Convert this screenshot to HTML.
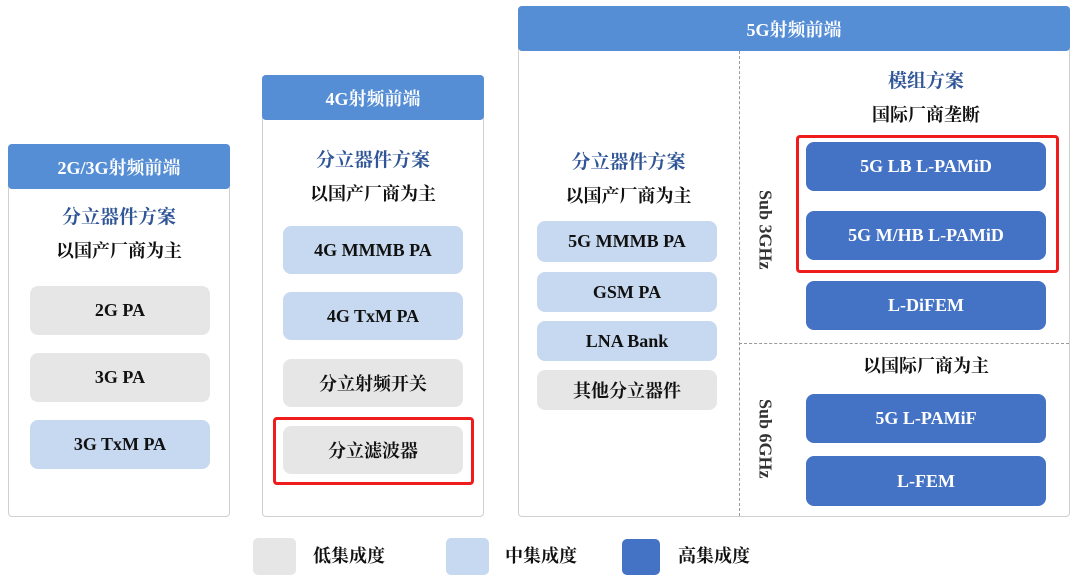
<!DOCTYPE html>
<html><head><meta charset="utf-8"><style>
body{margin:0;width:1080px;height:582px;background:#fff;position:relative;overflow:hidden;font-family:"Liberation Serif","Noto Serif CJK SC",serif;font-weight:bold;}
.a{position:absolute;box-sizing:border-box;display:flex;align-items:center;justify-content:center;white-space:nowrap;}
.panel{position:absolute;border:1.5px solid #d0d0d0;border-radius:4px;background:#fff;box-sizing:border-box;}
.hd{background:#558ed5;color:#fff;font-size:18px;border-radius:4px;}
.g{background:#e6e6e6;border-radius:8px;font-size:18px;color:#111;}
.l{background:#c6d9f0;border-radius:8px;font-size:18px;color:#111;}
.d{background:#4472c4;border-radius:8px;font-size:18px;color:#fff;}
.t{font-size:19px;color:#2f5597;}
.s{font-size:18px;color:#111;}
.red{position:absolute;border:3px solid #ee1c1c;border-radius:4px;box-sizing:border-box;}
.v{writing-mode:vertical-rl;font-size:18px;color:#333;}
</style></head><body>
<!-- 2G/3G -->
<div class="panel" style="left:8px;top:144px;width:222px;height:373px"></div>
<div class="a hd" style="left:8px;top:144px;width:222px;height:45px">2G/3G射频前端</div>
<div class="a t" style="left:8px;top:202px;width:222px;height:26px">分立器件方案</div>
<div class="a s" style="left:8px;top:237px;width:222px;height:26px">以国产厂商为主</div>
<div class="a g" style="left:30px;top:286px;width:180px;height:49px">2G PA</div>
<div class="a g" style="left:30px;top:353px;width:180px;height:49px">3G PA</div>
<div class="a l" style="left:30px;top:420px;width:180px;height:49px">3G TxM PA</div>
<!-- 4G -->
<div class="panel" style="left:262px;top:75px;width:222px;height:442px"></div>
<div class="a hd" style="left:262px;top:75px;width:222px;height:45px">4G射频前端</div>
<div class="a t" style="left:262px;top:145px;width:222px;height:26px">分立器件方案</div>
<div class="a s" style="left:262px;top:180px;width:222px;height:26px">以国产厂商为主</div>
<div class="a l" style="left:283px;top:226px;width:180px;height:48px">4G MMMB PA</div>
<div class="a l" style="left:283px;top:292px;width:180px;height:48px">4G TxM PA</div>
<div class="a g" style="left:283px;top:359px;width:180px;height:48px">分立射频开关</div>
<div class="a g" style="left:283px;top:426px;width:180px;height:48px">分立滤波器</div>
<div class="red" style="left:273px;top:417px;width:201px;height:68px"></div>
<!-- 5G -->
<div class="panel" style="left:518px;top:6px;width:552px;height:511px"></div>
<div class="a hd" style="left:518px;top:6px;width:552px;height:45px">5G射频前端</div>
<div style="position:absolute;left:739px;top:51px;height:465px;border-left:1.5px dashed #999"></div>
<div style="position:absolute;left:739px;top:343px;width:330px;border-top:1.5px dashed #999"></div>
<div class="a t" style="left:518px;top:147px;width:221px;height:26px">分立器件方案</div>
<div class="a s" style="left:518px;top:182px;width:221px;height:26px">以国产厂商为主</div>
<div class="a l" style="left:537px;top:221px;width:180px;height:41px">5G MMMB PA</div>
<div class="a l" style="left:537px;top:272px;width:180px;height:40px">GSM PA</div>
<div class="a l" style="left:537px;top:321px;width:180px;height:40px">LNA Bank</div>
<div class="a g" style="left:537px;top:370px;width:180px;height:40px">其他分立器件</div>
<div class="a t" style="left:806px;top:66px;width:240px;height:26px">模组方案</div>
<div class="a s" style="left:806px;top:101px;width:240px;height:26px">国际厂商垄断</div>
<div class="a d" style="left:806px;top:142px;width:240px;height:49px">5G LB L-PAMiD</div>
<div class="a d" style="left:806px;top:211px;width:240px;height:49px">5G M/HB L-PAMiD</div>
<div class="red" style="left:796px;top:135px;width:263px;height:138px"></div>
<div class="a d" style="left:806px;top:281px;width:240px;height:49px">L-DiFEM</div>
<div class="a s" style="left:806px;top:352px;width:240px;height:26px">以国际厂商为主</div>
<div class="a d" style="left:806px;top:394px;width:240px;height:49px">5G L-PAMiF</div>
<div class="a d" style="left:806px;top:456px;width:240px;height:50px">L-FEM</div>
<div class="a v" style="left:752px;top:185px;width:26px;height:90px">Sub 3GHz</div>
<div class="a v" style="left:752px;top:394px;width:26px;height:90px">Sub 6GHz</div>
<!-- legend -->
<div class="a g" style="left:253px;top:538px;width:43px;height:37px;border-radius:5px"></div>
<div class="a s" style="left:313px;top:540px;height:30px">低集成度</div>
<div class="a l" style="left:446px;top:538px;width:43px;height:37px;border-radius:5px"></div>
<div class="a s" style="left:505px;top:540px;height:30px">中集成度</div>
<div class="a d" style="left:622px;top:539px;width:38px;height:36px;border-radius:5px"></div>
<div class="a s" style="left:678px;top:540px;height:30px">高集成度</div>
</body></html>
